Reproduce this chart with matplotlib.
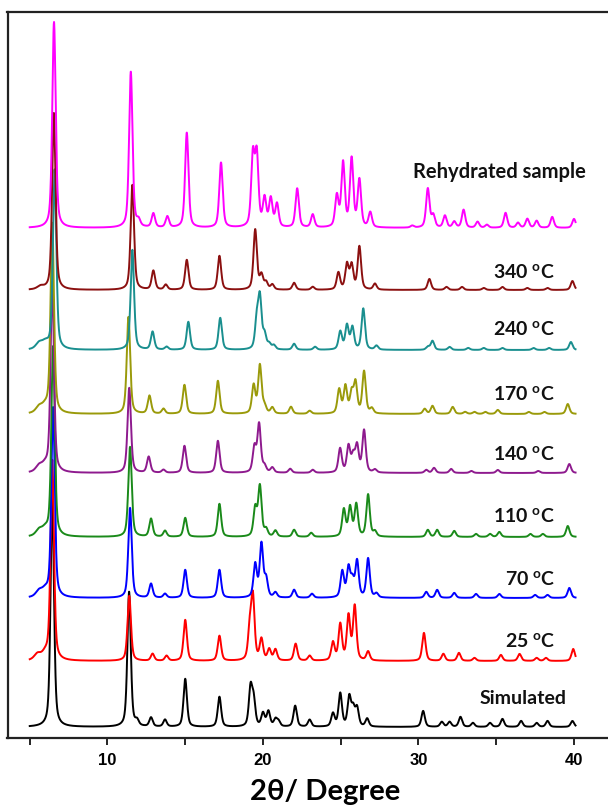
import numpy as np
import matplotlib
matplotlib.use("Agg")
import matplotlib.pyplot as plt

# Peak lists: 2theta position and peak height (arb. units)
sim_pos = [6.45, 11.39, 11.9, 12.8, 13.7, 15.0, 17.2, 19.2, 19.4, 20.0, 20.35, 20.8, 21.0, 22.07,
           23.0, 24.5, 24.97, 25.55, 25.8, 26.05, 26.7, 30.3, 31.5, 32.0, 32.7, 33.5, 34.6,
           35.4, 36.6, 37.6, 38.3, 39.9]
sim_int = [230, 135, 5, 9, 7, 48, 30, 38, 25, 13, 15, 7, 5, 21,
           7, 13, 33, 29, 17, 18, 8, 16, 5, 5, 10, 4, 4,
           8, 6, 4, 6, 6]

t25_pos = [5.5, 6.0, 6.45, 11.4, 12.9, 13.8, 15.0, 17.2, 19.15, 19.35, 19.9, 20.4, 20.8, 22.1,
           23.0, 24.5, 24.97, 25.5, 25.9, 26.76, 30.35, 31.6, 32.6, 33.6, 35.3, 36.5, 37.6,
           38.2, 39.95]
t25_int = [6, 6, 200, 65, 7, 5, 41, 25, 30, 62, 21, 11, 11, 17,
           5, 18, 36, 44, 54, 9, 28, 7, 8, 3, 6, 7, 3,
           3, 12]

t70_pos = [5.6, 6.0, 6.5, 11.45, 12.8, 13.7, 15.0, 17.2, 19.5, 19.9, 20.2, 20.8, 22.0,
           23.15, 25.1, 25.5, 25.75, 26.05, 26.76, 27.3, 30.5, 31.2, 32.3, 33.7, 35.2, 37.5,
           38.3, 39.7]
t70_int = [6, 6, 190, 90, 14, 4, 28, 28, 33, 53, 18, 5, 8,
           4, 26, 29, 16, 36, 39, 4, 6, 8, 5, 4, 4, 3,
           3, 10]

t110_pos = [5.6, 6.0, 6.5, 11.45, 12.8, 13.7, 15.0, 17.2, 19.5, 19.8, 20.2, 20.8, 22.0,
            23.1, 25.2, 25.6, 26.0, 26.76, 27.2, 30.6, 31.2, 32.3, 33.7, 34.6, 35.2, 37.2,
            38.0, 39.6]
t110_int = [6, 6, 190, 90, 18, 6, 19, 33, 28, 50, 7, 6, 7,
            4, 27, 29, 32, 42, 5, 7, 7, 6, 3, 3, 5, 3,
            3, 11]

t140_pos = [5.6, 6.0, 6.45, 11.4, 12.65, 13.6, 14.95, 17.1, 19.45, 19.75, 20.1, 20.6, 21.75,
            23.2, 24.96, 25.5, 25.8, 26.05, 26.5, 27.2, 30.5, 31.0, 32.1, 33.4, 35.1, 37.7,
            39.7]
t140_int = [6, 6, 190, 85, 16, 3, 27, 32, 25, 48, 6, 5, 4,
            3, 24, 26, 16, 26, 42, 3, 3, 5, 4, 2, 3, 2,
            9]

t170_pos = [5.6, 6.0, 6.45, 11.35, 12.7, 13.6, 14.95, 17.1, 19.4, 19.8, 20.1, 20.6, 21.8,
            23.0, 24.9, 25.3, 25.7, 25.95, 26.5, 27.0, 30.4, 30.9, 32.2, 33.0, 33.6, 34.3,
            35.1, 37.1, 38.1, 39.6]
t170_int = [6, 6, 190, 97, 18, 5, 29, 33, 28, 48, 7, 6, 7,
            3, 24, 27, 20, 30, 42, 5, 5, 8, 7, 2, 2, 2,
            4, 2, 2, 10]

t240_pos = [5.6, 6.0, 6.6, 11.6, 12.9, 13.8, 15.2, 17.25, 19.6, 19.8, 20.1, 20.4, 20.7, 22.0,
            23.35, 24.97, 25.4, 25.75, 26.45, 27.3, 30.6, 30.9, 32.0, 33.2, 34.2, 35.4, 37.4,
            38.4, 39.8]
t240_int = [6, 6, 180, 100, 18, 3, 28, 32, 28, 50, 14, 5, 4, 6,
            3, 18, 24, 22, 41, 4, 3, 9, 3, 2, 2, 2, 2,
            2, 8]

t340_pos = [5.7, 6.55, 11.6, 12.95, 13.75, 15.1, 17.2, 19.5, 19.9, 20.2, 20.6, 22.0,
            23.2, 24.85, 25.4, 25.7, 26.2, 27.2, 30.7, 31.8, 32.8, 34.2, 35.4, 37.0, 38.3,
            39.9]
t340_int = [3, 177, 105, 19, 5, 30, 34, 60, 14, 7, 5, 7,
            3, 17, 25, 24, 43, 6, 11, 3, 3, 2, 3, 2, 2,
            9]

reh_pos = [6.56, 11.5, 12.0, 12.95, 13.85, 15.1, 17.3, 19.35, 19.6, 20.1, 20.5, 20.9, 22.2,
           23.2, 24.75, 25.15, 25.7, 26.2, 26.9, 29.6, 30.6, 30.95, 31.7, 32.3, 32.9, 33.8,
           34.4, 35.6, 36.4, 37.0, 37.6, 38.6, 40.0]
reh_int = [206, 156, 6, 14, 11, 95, 65, 70, 70, 28, 28, 23, 39,
           13, 31, 64, 68, 47, 15, 2, 39, 12, 12, 6, 18, 6,
           3, 15, 5, 9, 7, 11, 9]

labels = ["Simulated", "25 $^{\\mathbf{o}}$C", "70 $^{\\mathbf{o}}$C", "110 $^{\\mathbf{o}}$C",
          "140 $^{\\mathbf{o}}$C", "170 $^{\\mathbf{o}}$C", "240 $^{\\mathbf{o}}$C",
          "340 $^{\\mathbf{o}}$C", "Rehydrated sample"]
offsets = [11, 77, 140, 201, 265, 324, 388, 448, 510]
colors = ["black", "#ff0000", "#0000ff", "#1a8a1a", "#8e1a8e", "#9a9a0a", "#1a8f8f",
          "#8b1010", "#ff00ff"]

series = [(sim_pos, sim_int), (t25_pos, t25_int), (t70_pos, t70_int), (t110_pos, t110_int),
          (t140_pos, t140_int), (t170_pos, t170_int), (t240_pos, t240_int),
          (t340_pos, t340_int), (reh_pos, reh_int)]


def pattern(x, pos, inten, fwhm=0.26):
    # pseudo-Voigt peaks on a flat baseline; the low-angle shoulder is broad
    y = np.zeros_like(x)
    for p, h in zip(pos, inten):
        g = (0.5 if p < 6.2 else fwhm) / 2
        lor = 1 / (1 + ((x - p) / g) ** 2)
        gau = np.exp(-np.log(2) * ((x - p) / g) ** 2)
        y += h * (0.5 * lor + 0.5 * gau)
    return y


plt.rcParams['mathtext.fontset'] = 'custom'
plt.rcParams['mathtext.bf'] = 'Lato:bold'
plt.rcParams['mathtext.rm'] = 'Lato'

fig = plt.figure(figsize=(6.08, 8.05), dpi=100)
ax = fig.add_axes([7.5 / 608, 67 / 805, 612 / 608, 726 / 805])

x = np.linspace(5, 40.1, 4000)
for (pos, inten), off, c in zip(series, offsets, colors):
    ax.plot(x, off + pattern(x, pos, inten), color=c, lw=1.4)

# series labels
label_x = [39.55, 38.8, 38.8, 38.8, 38.8, 38.8, 38.8, 38.8, 29.65]
label_y = [40, 96, 158, 221, 283, 343, 408, 465, 566]
for i, (lab, lx, ly) in enumerate(zip(labels, label_x, label_y)):
    ha = "left" if i == len(labels) - 1 else "right"
    ax.text(lx, ly, lab, ha=ha, va="center", fontsize=14.5 if i == 8 else 14,
            fontweight="bold", family=["Lato", "DejaVu Sans"], color="#111111")

ax.set_xlim(3.57, 3.57 + 612 / 15.55)
ax.set_ylim(0, 726)
ax.set_yticks([])
ax.set_xticks([10, 20, 30, 40])
ax.set_xticks([5, 15, 25, 35], minor=True)
ax.tick_params(axis="x", which="both", direction="out", length=5, width=1.2, pad=6)
for lab in ax.get_xticklabels():
    lab.set_fontsize(12)
    lab.set_fontweight("bold")
    lab.set_family(["Liberation Sans", "DejaVu Sans"])
for s in ["left", "bottom", "top"]:
    ax.spines[s].set_linewidth(1.6)
    ax.spines[s].set_color("#222222")
ax.spines["right"].set_visible(False)

ax.set_xlabel("2θ/ Degree", fontsize=21, fontweight="bold", family=["Lato", "DejaVu Sans"])
ax.xaxis.set_label_coords((325 - 7.5) / 612, -0.056)

fig.savefig("out.png", dpi=100)
